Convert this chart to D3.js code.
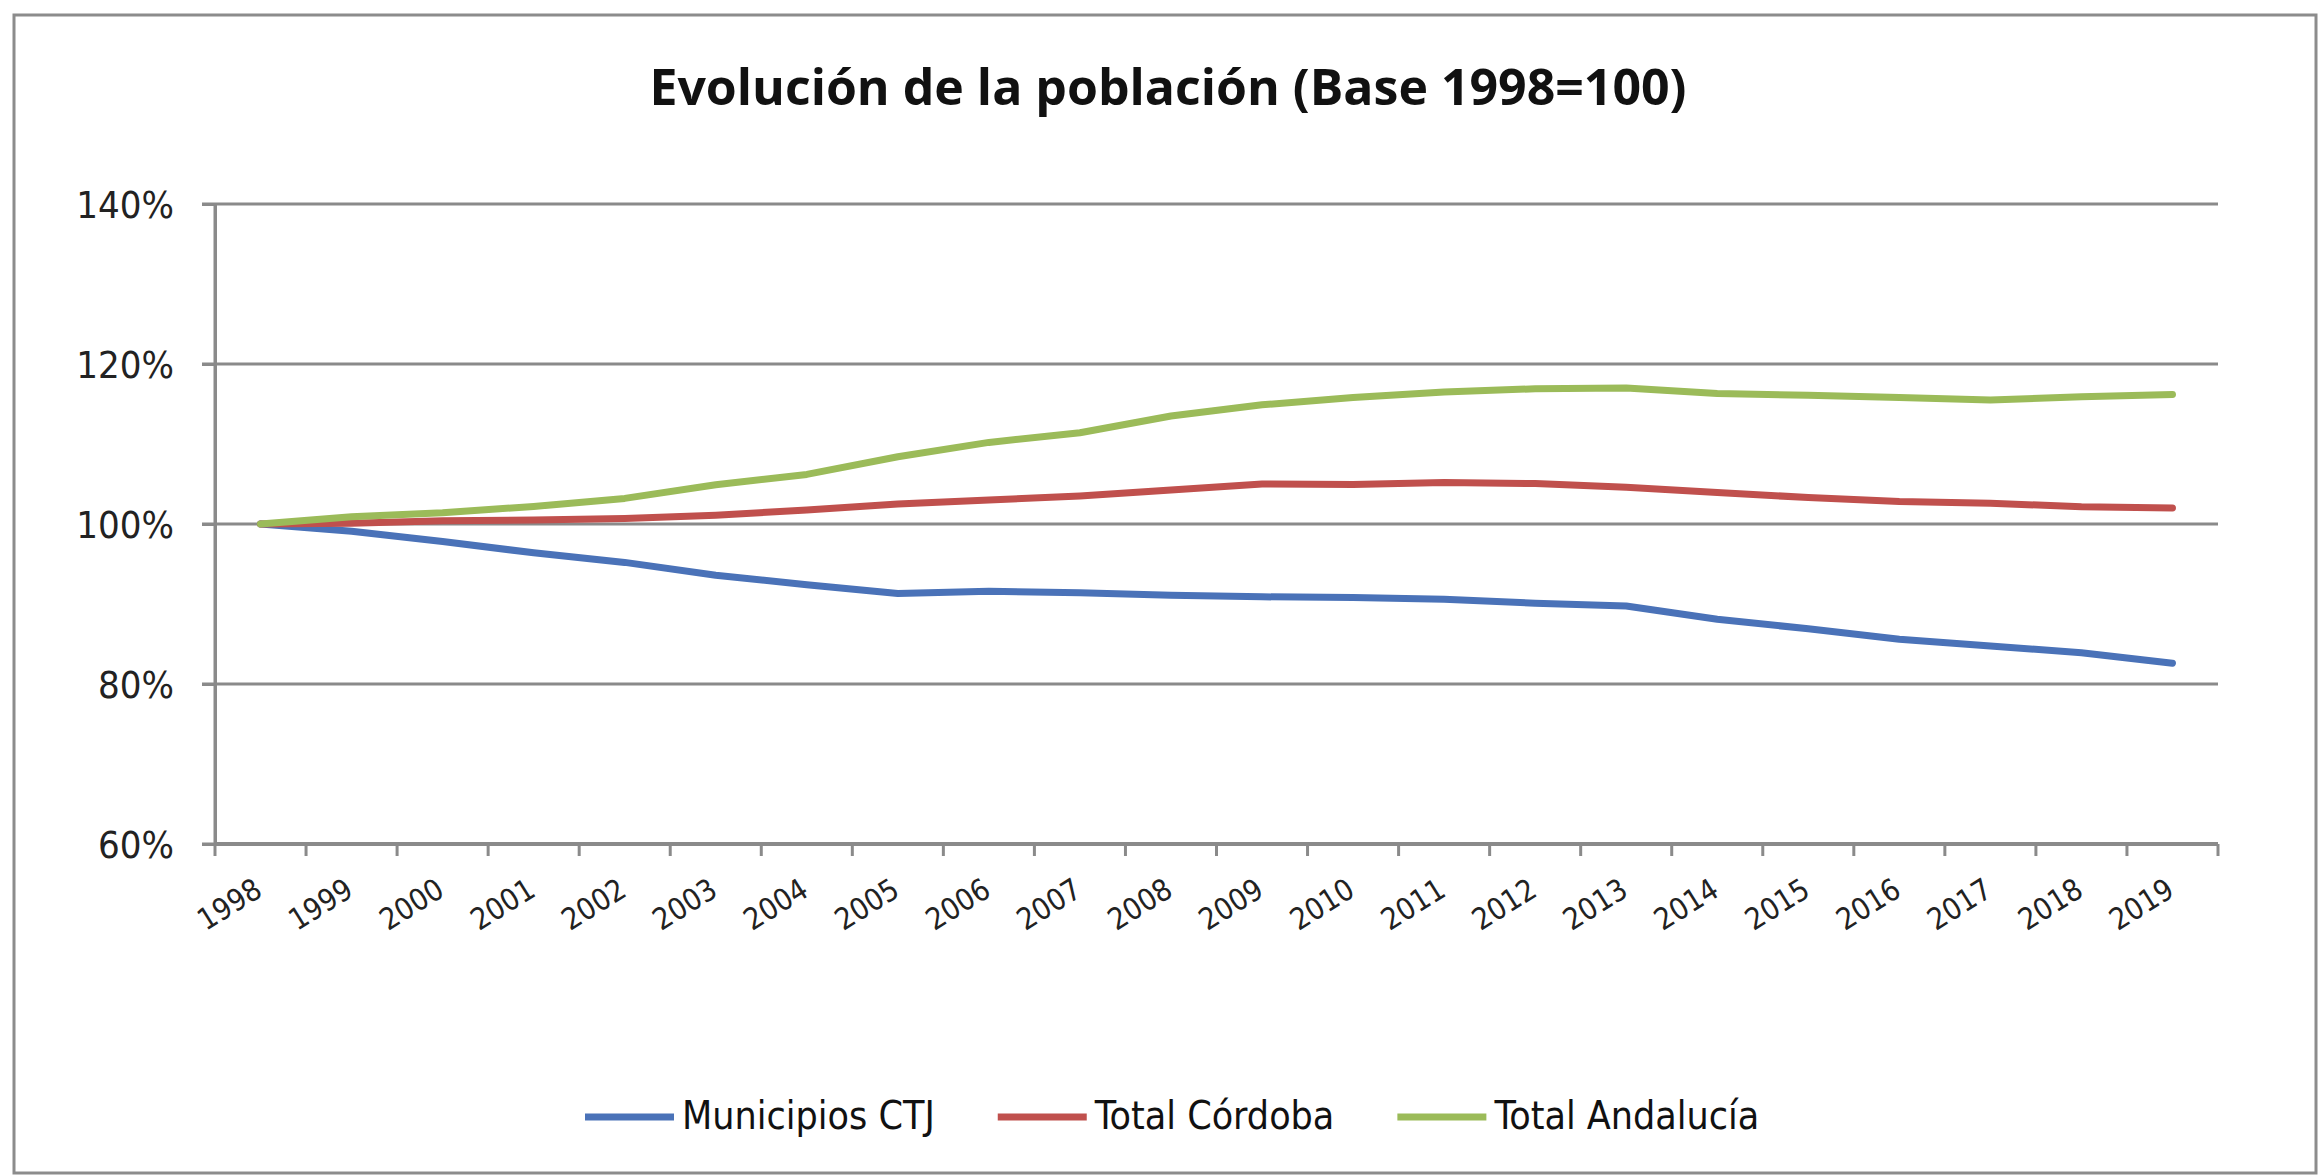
<!DOCTYPE html>
<html>
<head>
<meta charset="utf-8">
<script src="https://cdn.jsdelivr.net/npm/d3@7"></script>
<style>
  body { margin: 0; background: #fff; }
  svg { display: block; }
  text { font-family: "Liberation Sans Narrow", "DejaVu Sans Condensed", "Open Sans", sans-serif; }
</style>
</head>
<body>
<div class="container"></div>
<script>
// datos (índice base 1998 = 100)
const years = ['1998','1999','2000','2001','2002','2003','2004','2005','2006','2007','2008',
               '2009','2010','2011','2012','2013','2014','2015','2016','2017','2018','2019'];
const municipiosCTJ = [100, 99.1, 97.8, 96.4, 95.2, 93.6, 92.4, 91.3, 91.6, 91.4, 91.1,
                       90.9, 90.8, 90.6, 90.1, 89.75, 88.1, 86.9, 85.6, 84.75, 83.9, 82.6];
const totalCordoba = [100, 100.1, 100.4, 100.5, 100.7, 101.1, 101.75, 102.5, 103.0, 103.5, 104.25,
                      105.0, 104.95, 105.2, 105.05, 104.6, 103.95, 103.3, 102.8, 102.6, 102.15, 102.0];
const totalAndalucia = [100, 100.9, 101.4, 102.2, 103.2, 104.9, 106.2, 108.4, 110.2, 111.4, 113.5,
                        114.9, 115.8, 116.5, 116.9, 117.0, 116.3, 116.1, 115.8, 115.5, 115.9, 116.2];
const seriesNames = ['Municipios CTJ', 'Total Córdoba', 'Total Andalucía'];
const seriesColors = ['#4a72b8', '#c0504d', '#9bbb59'];
const yTicks = [60, 80, 100, 120, 140];
const title = 'Evolución de la población (Base 1998=100)';

const W = 2318, H = 1175;
const margin = {top: 204, right: 100, bottom: 331, left: 215};

const svg = d3.select('.container')
  .append('svg')
  .attr('width', W)
  .attr('height', H);

// marco exterior
svg.append('rect')
  .attr('x', 14).attr('y', 15)
  .attr('width', W - 16).attr('height', H - 17)
  .attr('fill', '#fff')
  .attr('stroke', '#8c8c8c')
  .attr('stroke-width', 3);

svg.append('text')
  .attr('x', 1168)
  .attr('y', 105)
  .attr('text-anchor', 'middle')
  .style('font-family', '"Open Sans", sans-serif')
  .style('font-size', '50px')
  .style('font-weight', 'bold')
  .attr('fill', '#111')
  .text(title);

const xScale = d3.scaleBand()
  .domain(years)
  .range([margin.left, 2218])
  .padding(0);

const edgeScale = d3.scalePoint()
  .domain(d3.range(years.length + 1))
  .range([margin.left, 2218]);

const yScale = d3.scaleLinear()
  .domain([60, 140])
  .range([H - margin.bottom, margin.top]);

// rejilla horizontal
svg.append('g')
  .selectAll('line')
  .data(yTicks)
  .enter()
  .append('line')
  .attr('x1', margin.left - 13)
  .attr('x2', 2218)
  .attr('y1', function(d){ return yScale(d); })
  .attr('y2', function(d){ return yScale(d); })
  .attr('stroke', '#8a8a8a')
  .attr('stroke-width', 3);

// eje Y
const yAxis = svg.append('g')
  .attr('transform', 'translate(' + margin.left + ',0)')
  .call(d3.axisLeft(yScale).tickValues(yTicks).tickSize(13).tickFormat(function(d){ return d + '%'; }));
yAxis.select('.domain').attr('stroke', '#8a8a8a').attr('stroke-width', 3);
yAxis.selectAll('.tick line').attr('stroke', '#8a8a8a').attr('stroke-width', 3);
yAxis.selectAll('text')
  .attr('x', -41)
  .attr('dy', '0.35em')
  .style('font-size', '38px')
  .attr('fill', '#222');

// eje X: etiquetas centradas y marcas entre categorías
const xAxis = svg.append('g')
  .attr('transform', 'translate(0,' + yScale(60) + ')')
  .call(d3.axisBottom(xScale).tickSize(0).tickSizeOuter(0));
xAxis.select('.domain').remove();
xAxis.selectAll('text')
  .attr('x', 0)
  .attr('y', 0)
  .attr('dy', '0.35em')
  .attr('text-anchor', 'end')
  .attr('transform', 'translate(-2,42) rotate(-32)')
  .style('font-size', '30px')
  .attr('fill', '#222');

svg.append('g')
  .selectAll('line')
  .data(edgeScale.domain())
  .enter()
  .append('line')
  .attr('x1', function(d){ return edgeScale(d); })
  .attr('x2', function(d){ return edgeScale(d); })
  .attr('y1', yScale(60))
  .attr('y2', yScale(60) + 12)
  .attr('stroke', '#8a8a8a')
  .attr('stroke-width', 3);

svg.append('line')
  .attr('x1', margin.left).attr('x2', 2218)
  .attr('y1', yScale(60)).attr('y2', yScale(60))
  .attr('stroke', '#8a8a8a')
  .attr('stroke-width', 4);

svg.append('line')
  .attr('x1', margin.left).attr('x2', margin.left)
  .attr('y1', margin.top).attr('y2', yScale(60))
  .attr('stroke', '#8a8a8a')
  .attr('stroke-width', 3);

// líneas
const allSeries = [municipiosCTJ, totalCordoba, totalAndalucia];
const line = d3.line()
  .x(function(d, i){ return xScale(years[i]) + xScale.bandwidth() / 2; })
  .y(function(d){ return yScale(d); });

svg.append('g')
  .selectAll('path')
  .data(allSeries)
  .enter()
  .append('path')
  .attr('d', function(d){ return line(d); })
  .attr('fill', 'none')
  .attr('stroke', function(d, i){ return seriesColors[i]; })
  .attr('stroke-width', 7)
  .attr('stroke-linejoin', 'round')
  .attr('stroke-linecap', 'round');

// leyenda
const legend = svg.append('g');
let cursor = 585;
seriesNames.forEach(function(name, i) {
  legend.append('line')
    .attr('x1', cursor).attr('x2', cursor + 89)
    .attr('y1', 1117).attr('y2', 1117)
    .attr('stroke', seriesColors[i])
    .attr('stroke-width', 7);
  const t = legend.append('text')
    .attr('x', cursor + 97)
    .attr('y', 1129)
    .style('font-size', '39px')
    .attr('fill', '#111')
    .text(name);
  cursor = cursor + 97 + t.node().getComputedTextLength() + 63;
});
</script>
</body>
</html>
